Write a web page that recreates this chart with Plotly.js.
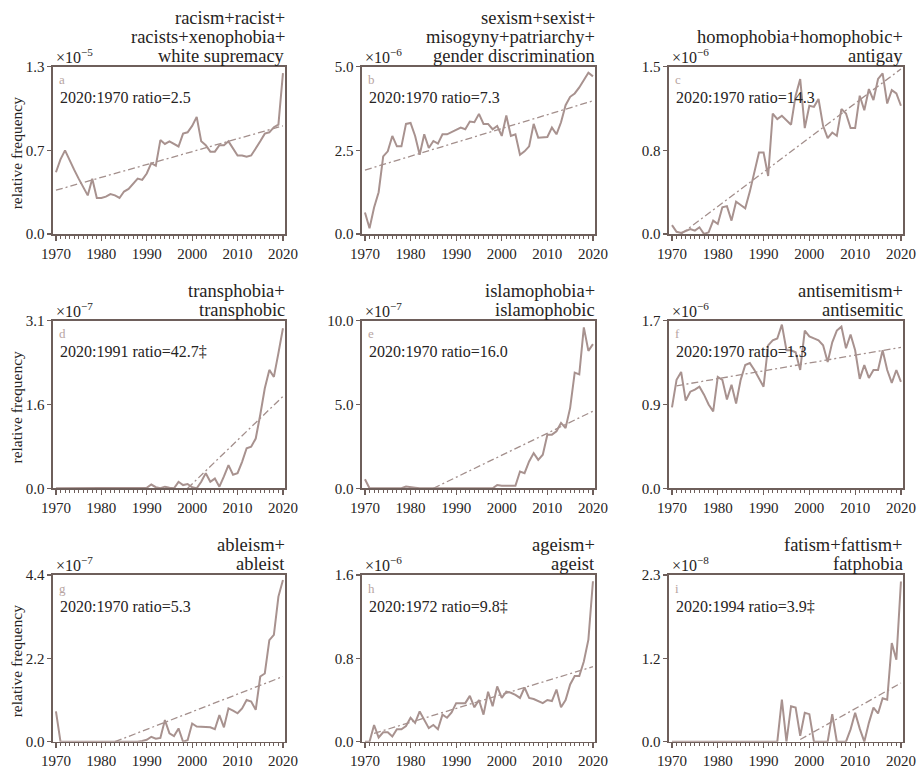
<!DOCTYPE html>
<html>
<head>
<meta charset="utf-8">
<script src="https://cdn.plot.ly/plotly-3.0.1.min.js"></script>
<style>html,body{margin:0;padding:0;background:#fff;}#chart{width:917px;height:768px;}</style>
</head>
<body>
<div id="chart"></div>
<script>
// ---------- DATA (values in units of the panel's ×10^n) ----------
const years = [1970,1971,1972,1973,1974,1975,1976,1977,1978,1979,
               1980,1981,1982,1983,1984,1985,1986,1987,1988,1989,
               1990,1991,1992,1993,1994,1995,1996,1997,1998,1999,
               2000,2001,2002,2003,2004,2005,2006,2007,2008,2009,
               2010,2011,2012,2013,2014,2015,2016,2017,2018,2019,
               2020];

const racism = [0.48,0.58,0.65,0.57,0.50,0.43,0.36,0.30,0.43,0.28,
                0.28,0.29,0.31,0.30,0.28,0.33,0.35,0.39,0.43,0.42,
                0.47,0.55,0.53,0.73,0.70,0.72,0.70,0.68,0.78,0.79,
                0.84,0.91,0.72,0.69,0.64,0.64,0.69,0.69,0.72,0.66,
                0.61,0.61,0.60,0.61,0.66,0.72,0.78,0.79,0.83,0.85,
                1.25];
const sexism = [0.64,0.17,0.79,1.25,2.32,2.47,2.93,2.62,2.62,3.29,
                3.32,2.93,2.37,2.98,2.57,2.78,2.70,2.98,2.98,3.05,
                3.13,3.18,3.13,3.36,3.34,3.59,3.29,3.29,3.13,3.23,
                2.93,3.54,2.93,2.98,2.37,2.47,2.62,3.29,2.88,2.88,
                2.90,3.18,2.98,3.34,3.85,4.10,4.20,4.38,4.61,4.82,
                4.71];
const homophobia = [0.08,0.02,0.01,0.03,0.045,0.03,0.06,0.0,0.015,0.12,
                    0.09,0.24,0.25,0.12,0.29,0.26,0.23,0.38,0.55,0.73,
                    0.73,0.52,1.08,1.03,1.06,1.02,0.98,1.24,1.39,0.95,
                    1.15,1.14,1.21,0.97,0.86,0.91,0.88,1.12,1.08,0.95,
                    0.95,1.24,1.11,1.30,1.20,1.39,1.44,1.17,1.29,1.26,
                    1.15];
const transphobia = [0,0,0,0,0,0,0,0,0,0,
                     0,0,0,0,0,0,0,0,0,0.01,
                     0.01,0.07,0.02,0,0.03,0.01,0,0.12,0.06,0.08,
                     0.02,0.0,0.12,0.28,0.12,0.18,0.03,0.22,0.43,0.25,
                     0.28,0.49,0.74,0.77,0.92,1.36,1.85,2.19,2.06,2.50,
                     2.96];
const islamophobia = [0.54,0,0,0,0,0,0,0,0,0.1,
                      0.05,0.03,0,0,0,0,0,0,0,0,
                      0,0,0,0,0,0,0,0,0,0.2,
                      0.15,0.15,0.15,0.15,1.0,0.9,1.6,2.1,1.7,2.0,
                      3.2,3.2,3.4,3.9,3.6,4.8,6.9,6.8,9.6,8.2,
                      8.6];
const antisemitism = [0.82,1.10,1.18,0.89,0.98,1.00,1.03,0.95,0.85,0.78,
                      1.13,1.10,0.90,1.05,0.86,1.10,1.25,1.27,1.20,1.12,
                      1.03,1.45,1.50,1.52,1.66,1.40,1.40,1.38,1.20,1.60,
                      1.54,1.52,1.50,1.45,1.28,1.48,1.60,1.64,1.42,1.56,
                      1.40,1.11,1.25,1.12,1.20,1.20,1.40,1.20,1.07,1.20,
                      1.08];
const ableism = [0.80,0,0,0,0,0,0,0,0,0,
                 0,0,0,0,0,0,0,0,0,0.02,
                 0.05,0.13,0.08,0.10,0.57,0.22,0.15,0.35,0.0,0.04,
                 0.48,0.40,0.40,0.38,0.38,0.33,0.70,0.38,0.88,0.82,
                 0.75,0.88,1.10,1.06,0.84,1.72,1.80,2.68,2.82,3.83,
                 4.27];
const ageism = [0,0,0.16,0.04,0.09,0.09,0.05,0.12,0.12,0.15,
                0.23,0.18,0.29,0.21,0.13,0.16,0.12,0.26,0.23,0.28,
                0.37,0.37,0.37,0.44,0.33,0.40,0.26,0.48,0.34,0.53,
                0.42,0.48,0.47,0.45,0.42,0.52,0.42,0.41,0.39,0.37,
                0.40,0.39,0.50,0.33,0.40,0.55,0.63,0.63,0.77,0.98,
                1.54];
const fatism = [0,0,0,0,0,0,0,0,0,0,
                0,0,0,0,0,0,0,0,0,0,
                0,0,0,0,0.58,0,0.49,0.47,0.08,0.40,
                0.38,0,0,0,0,0.38,0,0,0,0.17,
                0.40,0.18,0,0.26,0.47,0.39,0.60,0.58,1.36,1.13,
                2.21];

// dashed trend lines (start/end)
const trendRacismX = [1970,2020],       trendRacismY = [0.34,0.84];
const trendSexismX = [1970,2020],       trendSexismY = [1.91,3.98];
const trendHomophobiaX = [1972,2020],   trendHomophobiaY = [0,1.48];
const trendTransphobiaX = [1999,2020],  trendTransphobiaY = [0,1.70];
const trendIslamophobiaX = [1985,2020], trendIslamophobiaY = [0,4.6];
const trendAntisemitismX = [1971,2020], trendAntisemitismY = [1.04,1.43];
const trendAbleismX = [1983,2020],      trendAbleismY = [0,1.72];
const trendAgeismX = [1972,2020],       trendAgeismY = [0.08,0.72];
const trendFatismX = [1998,2020],       trendFatismY = [0.03,0.81];

// panel labels
const panelTitles = [
  ['racism+racist+','racists+xenophobia+','white supremacy'],
  ['sexism+sexist+','misogyny+patriarchy+','gender discrimination'],
  ['homophobia+homophobic+','antigay'],
  ['transphobia+','transphobic'],
  ['islamophobia+','islamophobic'],
  ['antisemitism+','antisemitic'],
  ['ableism+','ableist'],
  ['ageism+','ageist'],
  ['fatism+fattism+','fatphobia']
];
const panelLetters = ['a','b','c','d','e','f','g','h','i'];
const ratioTexts = ['2020:1970 ratio=2.5','2020:1970 ratio=7.3','2020:1970 ratio=14.3',
                    '2020:1991 ratio=42.7‡','2020:1970 ratio=16.0','2020:1970 ratio=1.3',
                    '2020:1970 ratio=5.3','2020:1972 ratio=9.8‡','2020:1994 ratio=3.9‡'];
const yMax = [1.3,5.0,1.5,3.1,10.0,1.7,4.4,1.6,2.3];
const yMidLabels = ['0.7','2.5','0.8','1.6','5.0','0.9','2.2','0.8','1.2'];
const yExponents = ['−5','−6','−6','−7','−7','−6','−7','−6','−8'];
const yTitle = 'relative frequency';

// ---------- LAYOUT ----------
const W = 917, H = 768;
const colBox = [[53,285],[362,595],[669,903]];
const rowBox = [[66.7,234],[320.7,488.3],[575,741.7]];
const series = [racism,sexism,homophobia,transphobia,islamophobia,antisemitism,ableism,ageism,fatism];
const trendX = [trendRacismX,trendSexismX,trendHomophobiaX,trendTransphobiaX,trendIslamophobiaX,trendAntisemitismX,trendAbleismX,trendAgeismX,trendFatismX];
const trendY = [trendRacismY,trendSexismY,trendHomophobiaY,trendTransphobiaY,trendIslamophobiaY,trendAntisemitismY,trendAbleismY,trendAgeismY,trendFatismY];

const axisColor = '#6e5f5b';
const lineColor = '#a8928f';
const trendColor = '#a38f8c';
const textColor = '#262322';
const FONT = '"Liberation Serif"';
const px = x => x / W;
const py = y => 1 - y / H;

const traces = [];
const layout = {
  width: W, height: H,
  margin: {l:0, r:0, t:0, b:0},
  paper_bgcolor: '#ffffff', plot_bgcolor: '#ffffff',
  showlegend: false,
  font: {family: FONT, color: textColor},
  annotations: []
};

for (let k = 0; k < 9; k++) {
  const r = Math.floor(k / 3), c = k % 3;
  const [x0, x1] = colBox[c];
  const [y0, y1] = rowBox[r];
  const sfx = k === 0 ? '' : String(k + 1);
  const xa = 'x' + sfx, ya = 'y' + sfx;

  traces.push({
    x: trendX[k], y: trendY[k], xaxis: xa, yaxis: ya,
    type: 'scatter', mode: 'lines', hoverinfo: 'skip',
    line: {color: trendColor, width: 1.3, dash: '7px,3px,2px,3px'}
  });
  traces.push({
    x: years, y: series[k], xaxis: xa, yaxis: ya,
    type: 'scatter', mode: 'lines', hoverinfo: 'skip',
    line: {color: lineColor, width: 2}
  });

  layout['xaxis' + sfx] = {
    domain: [px(x0), px(x1)], anchor: ya,
    range: [1969.35, 2020.45],
    tickmode: 'linear', tick0: 1970, dtick: 10, tickformat: 'd',
    ticks: 'outside', ticklen: 5, tickwidth: 1.2, tickcolor: axisColor,
    minor: {tickmode: 'linear', tick0: 1970, dtick: 1, ticks: 'outside', ticklen: 3, tickwidth: 1, tickcolor: axisColor, showgrid: false},
    showline: true, linecolor: axisColor, linewidth: 1.6, mirror: true,
    showgrid: false, zeroline: false, fixedrange: true,
    tickfont: {family: FONT, size: 15, color: textColor}
  };
  layout['yaxis' + sfx] = {
    domain: [py(y1), py(y0)], anchor: xa,
    range: [0, yMax[k]],
    tickmode: 'array', tickvals: [0, yMax[k] / 2, yMax[k]],
    ticktext: ['0.0', yMidLabels[k], yMax[k].toFixed(1)],
    ticks: 'outside', ticklen: 4, tickwidth: 1.2, tickcolor: axisColor,
    showline: true, linecolor: axisColor, linewidth: 1.6, mirror: true,
    showgrid: false, zeroline: false, fixedrange: true,
    tickfont: {family: FONT, size: 15, color: textColor}
  };

  // title lines, right-aligned above the box
  const lines = panelTitles[k];
  for (let i = 0; i < lines.length; i++) {
    const fromBottom = lines.length - 1 - i;
    layout.annotations.push({
      xref: 'paper', yref: 'paper', x: px(x1 + 1.5), y: py(y0 - 11 - fromBottom * 18.7),
      xanchor: 'right', yanchor: 'middle', showarrow: false,
      text: lines[i], font: {family: FONT, size: 18.5, color: textColor}
    });
  }
  // ×10^n
  layout.annotations.push({
    xref: 'paper', yref: 'paper', x: px(x0 + 1), y: py(y0 + 1),
    xanchor: 'left', yanchor: 'bottom', showarrow: false,
    text: '×10<sup>' + yExponents[k] + '</sup>', font: {family: FONT, size: 16, color: textColor}
  });
  // panel letter
  layout.annotations.push({
    xref: 'paper', yref: 'paper', x: px(x0 + 4), y: py(y0 + 13),
    xanchor: 'left', yanchor: 'middle', showarrow: false,
    text: panelLetters[k], font: {family: FONT, size: 13, color: '#b8a5a2'}
  });
  // ratio text
  layout.annotations.push({
    xref: 'paper', yref: 'paper', x: px(x0 + 5), y: py(y0 + 31),
    xanchor: 'left', yanchor: 'middle', showarrow: false,
    text: ratioTexts[k], font: {family: FONT, size: 16, color: textColor}
  });
  // y title on first column
  if (c === 0) {
    layout.annotations.push({
      xref: 'paper', yref: 'paper', x: px(16), y: py((y0 + y1) / 2 + 3),
      xanchor: 'center', yanchor: 'middle', showarrow: false, textangle: -90,
      text: yTitle, font: {family: FONT, size: 15.5, color: textColor}
    });
  }
}

Plotly.newPlot('chart', traces, layout, {staticPlot: true, displayModeBar: false});
</script>
</body>
</html>
